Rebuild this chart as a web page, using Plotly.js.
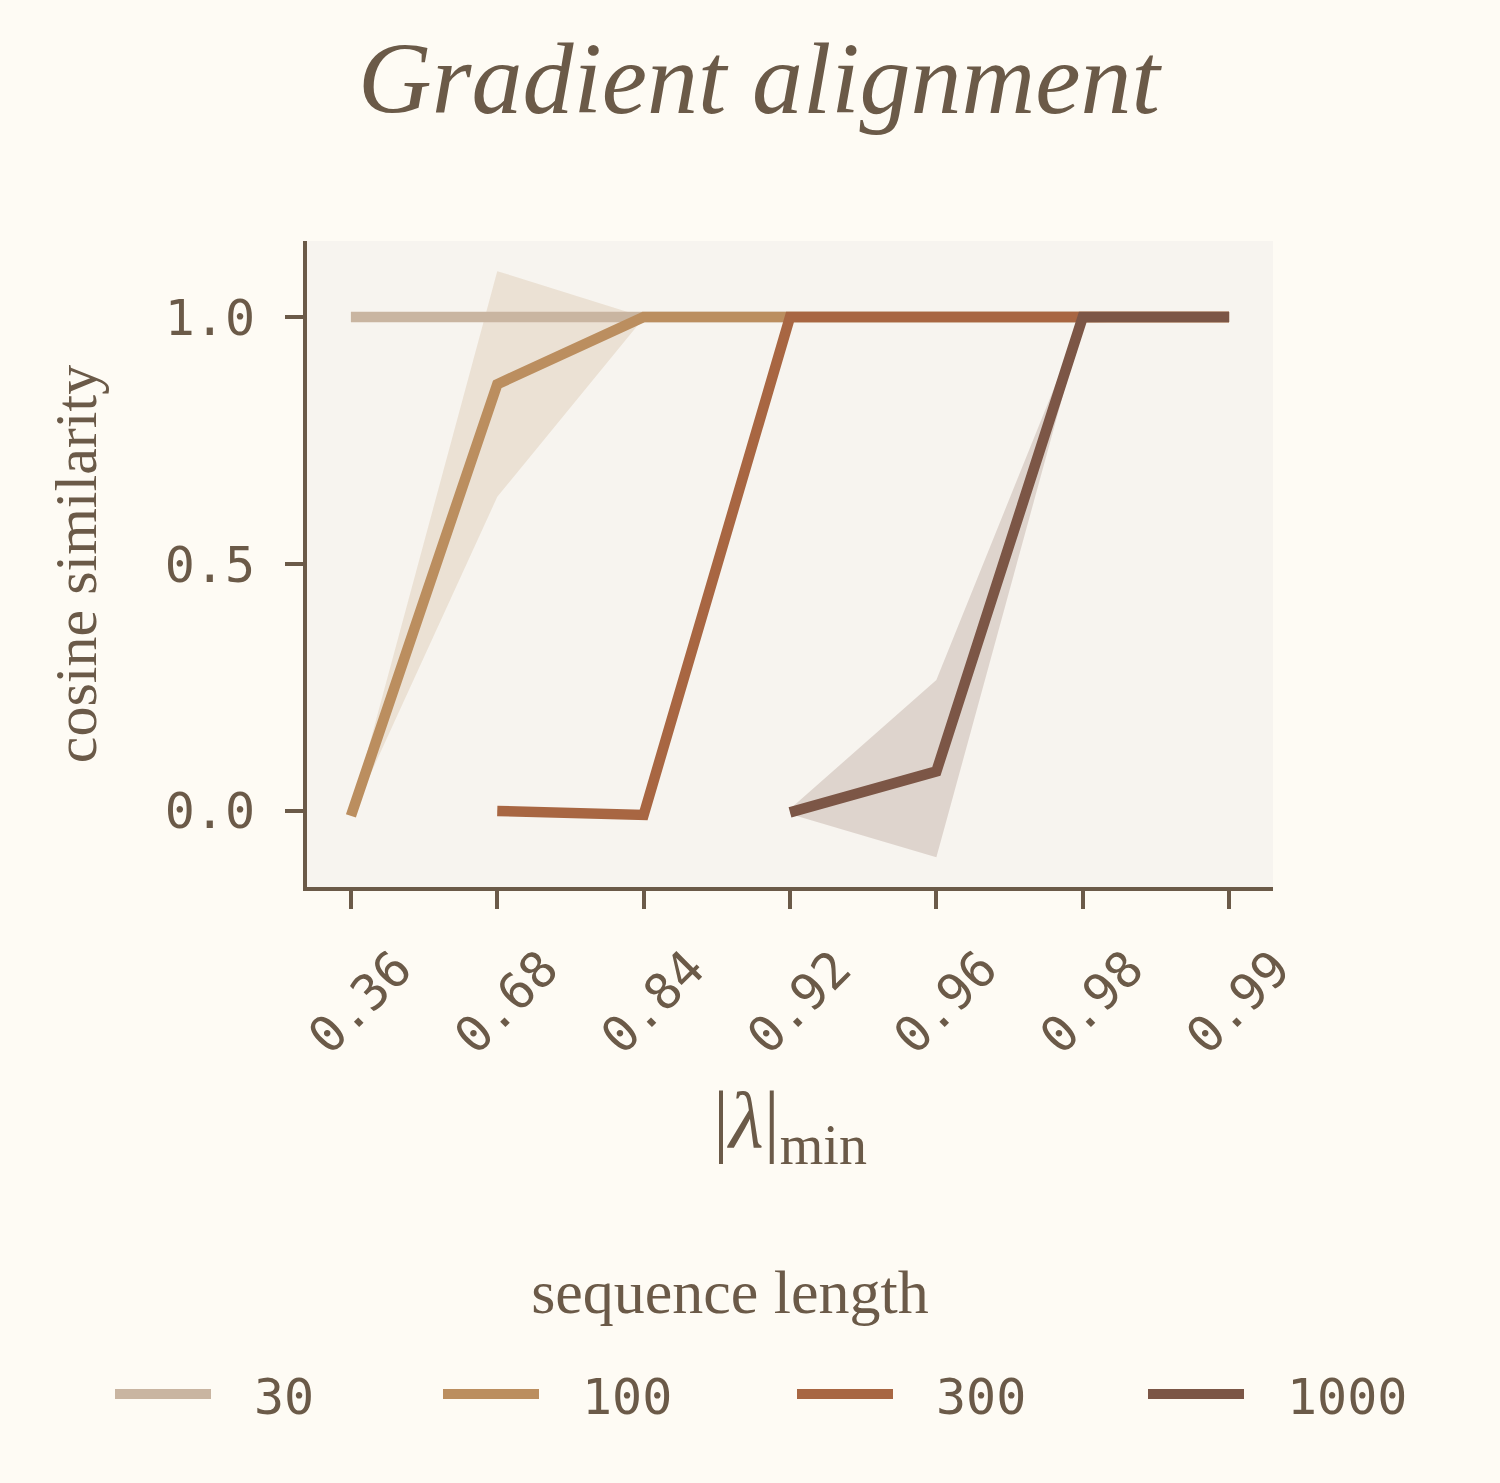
<!DOCTYPE html>
<html>
<head>
<meta charset="utf-8">
<script src="https://cdn.plot.ly/plotly-3.0.1.min.js"></script>
<style>
  html, body { margin: 0; padding: 0; background: #fefbf4; }
  #grafico { width: 1500px; height: 1483px; }
</style>
</head>
<body>
<div id="grafico"></div>
<script>
// Valores
const lambdas = ['0.36', '0.68', '0.84', '0.92', '0.96', '0.98', '0.99'];

const x30 = lambdas;
const y30 = [1.0, 1.0, 1.0, 1.0, 1.0, 1.0, 1.0];

const x100 = lambdas;
const y100 = [-0.01, 0.864, 1.0, 1.0, 1.0, 1.0, 1.0];
const lo100 = [-0.012, 0.636, 0.998, 1.0, 1.0, 1.0, 1.0];
const hi100 = [-0.004, 1.093, 1.0, 1.0, 1.0, 1.0, 1.0];

const x300 = ['0.68', '0.84', '0.92', '0.96', '0.98', '0.99'];
const y300 = [0.0, -0.008, 1.0, 1.0, 1.0, 1.0];
const lo300 = [-0.003, -0.012, 1.0, 1.0, 1.0, 1.0];
const hi300 = [0.002, -0.004, 1.0, 1.0, 1.0, 1.0];

const x1000 = ['0.92', '0.96', '0.98', '0.99'];
const y1000 = [-0.003, 0.08, 1.0, 1.0];
const lo1000 = [-0.006, -0.094, 0.988, 1.0];
const hi1000 = [0.004, 0.265, 1.0, 1.0];

const nombres = ['30', '100', '300', '1000'];
const colores = ['#c9b5a1', '#bb8e5f', '#a86642', '#7c5646'];
const rellenos = ['rgba(201,181,161,0.2)', 'rgba(187,142,95,0.19)', 'rgba(168,102,66,0.2)', 'rgba(124,86,70,0.2)'];

const tinta = '#6b5a48';
const serif = 'Liberation Serif, serif';
const mono = 'DejaVu Sans Mono, monospace';

// Banda de confianza: límite inferior invisible + superior con relleno
function banda(x, lo, hi, relleno) {
    return [
        { x: x, y: lo, type: 'scatter', mode: 'lines', line: { width: 0 }, showlegend: false, hoverinfo: 'skip' },
        { x: x, y: hi, type: 'scatter', mode: 'lines', line: { width: 0 }, fill: 'tonexty',
          fillcolor: relleno, showlegend: false, hoverinfo: 'skip' }
    ];
}

function linea(x, y, i) {
    return {
        x: x, y: y, type: 'scatter', mode: 'lines', name: nombres[i],
        line: { color: colores[i], width: 10.5 }
    };
}

const trazas = [
    ...banda(x100, lo100, hi100, rellenos[1]),
    ...banda(x300, lo300, hi300, rellenos[2]),
    ...banda(x1000, lo1000, hi1000, rellenos[3]),
    linea(x30, y30, 0),
    linea(x100, y100, 1),
    linea(x300, y300, 2),
    linea(x1000, y1000, 3)
];

const layout = {
    width: 1500,
    height: 1483,
    paper_bgcolor: '#fefbf4',
    plot_bgcolor: '#f7f4ef',
    font: { color: tinta, family: serif, size: 50 },
    margin: { l: 307, r: 227, t: 241, b: 596 },
    title: {
        text: '<i>Gradient alignment</i>',
        font: { family: serif, size: 102, color: tinta },
        x: 0.506, xanchor: 'center',
        y: 0.948, yanchor: 'middle', yref: 'container'
    },
    xaxis: {
        type: 'category',
        categoryorder: 'array',
        categoryarray: lambdas,
        range: [-0.3, 6.3],
        showgrid: false,
        zeroline: false,
        showline: true,
        linecolor: tinta,
        linewidth: 4,
        ticks: 'outside',
        ticklen: 18,
        tickwidth: 4,
        tickcolor: tinta,
        tickangle: -45,
        ticklabelshift: 46,
        ticklabelstandoff: 10,
        tickfont: { family: mono, size: 50, color: tinta },
        title: {
            text: '|<i>λ</i>|<sub>min</sub>',
            font: { family: serif, size: 80, color: tinta },
            standoff: 28
        }
    },
    yaxis: {
        range: [-0.154, 1.154],
        tickvals: [0, 0.5, 1.0],
        ticktext: ['0.0', '0.5', '1.0'],
        showgrid: false,
        zeroline: false,
        showline: true,
        linecolor: tinta,
        linewidth: 4,
        ticks: 'outside',
        ticklen: 18,
        tickwidth: 4,
        tickcolor: tinta,
        ticklabelstandoff: 20,
        tickfont: { family: mono, size: 50, color: tinta },
        title: {
            text: 'cosine similarity',
            font: { family: serif, size: 60, color: tinta },
            standoff: 50
        }
    },
    showlegend: true,
    legend: {
        orientation: 'h',
        traceorder: 'normal',
        xref: 'container', yref: 'container',
        x: 0.5, xanchor: 'center',
        y: 0.165, yanchor: 'top',
        bgcolor: 'rgba(0,0,0,0)',
        font: { family: mono, size: 50, color: tinta },
        title: { text: 'sequence length', side: 'top center', font: { family: serif, size: 62, color: tinta } }
    }
};

const config = { displayModeBar: false, staticPlot: true };

// Ajuste de la leyenda al estilo de la referencia:
// línea de 96 px, 43 px hasta el texto, columnas separadas y título centrado arriba
const largoLinea = 96;
const huecoTexto = 43;
const inicioItems = [115, 443, 797, 1148];
const centroItemsY = 1394;
const centroTituloX = 730;
const centroTituloY = 1292;

function moverPor(el, dx, dy) {
    const m = /translate\(([-\d.]+)[ ,]*([-\d.]*)\)/.exec(el.getAttribute('transform') || '');
    const x0 = m ? parseFloat(m[1]) : 0;
    const y0 = m && m[2] !== '' ? parseFloat(m[2]) : 0;
    el.setAttribute('transform', 'translate(' + (x0 + dx) + ',' + (y0 + dy) + ')');
}

Plotly.newPlot('grafico', trazas, layout, config).then(function (gd) {
    const scroll = gd.querySelector('.legend .scrollbox');
    if (scroll) scroll.removeAttribute('clip-path');

    gd.querySelectorAll('.legend .traces').forEach(function (item, i) {
        const trazo = item.querySelector('.legendlines path');
        if (trazo) trazo.setAttribute('d', 'M0,0h' + largoLinea);
        const txt = item.querySelector('.legendtext');
        if (txt) {
            const xt = largoLinea + huecoTexto;
            txt.setAttribute('x', xt);
            txt.querySelectorAll('tspan[x]').forEach(function (ts) { ts.setAttribute('x', xt); });
        }
        if (trazo && i < inicioItems.length) {
            const r = trazo.getBoundingClientRect();
            moverPor(item, inicioItems[i] - r.left, centroItemsY - (r.top + r.height / 2));
        }
    });

    const titulo = gd.querySelector('.legend .legendtitletext');
    if (titulo) {
        const r = titulo.getBoundingClientRect();
        moverPor(titulo, centroTituloX - (r.left + r.width / 2), centroTituloY - (r.top + r.height / 2));
    }
});
</script>
</body>
</html>
